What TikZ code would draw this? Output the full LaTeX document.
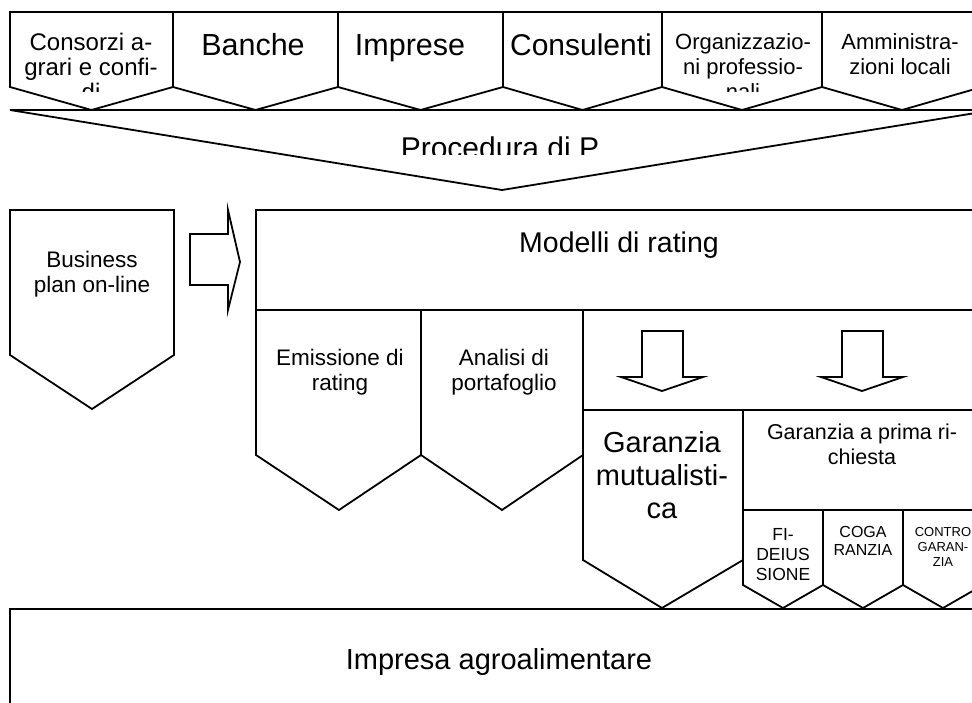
\documentclass[tikz,border=0pt]{standalone}
\usepackage{fontspec}
\setmainfont{Liberation Sans}
\newcommand\myfs[2]{\fontsize{#1}{#2}\selectfont}
\begin{document}
\begin{tikzpicture}[x=1pt,y=-1pt,
  shp/.style={draw=black,line width=1.8pt,line join=miter},
  lbl/.style={align=center,inner sep=0pt,text=black}]
\useasboundingbox (0,0) rectangle (972,702);
\clip (0,0) rectangle (972,702);
\fill[white] (0,0) rectangle (972,702);
% big chevron
\draw[shp] (10,110) -- (994,110) -- (502,190) -- cycle;
% top row pentagons
\foreach \xl/\xr in {10/173,173/338,338/503,503/662,662/822,822/982}{
  \draw[shp] (\xl,12) -- (\xr,12) -- (\xr,87) -- ({(\xl+\xr)/2},110) -- (\xl,87) -- cycle;
}
\begin{scope}
  \clip (0,12) rectangle (972,91);
  \node[lbl,font=\myfs{24}{25}] (consorzi) at (91,67) {Consorzi a-\\grari e confi-\\di};
  \node[lbl,font=\myfs{30.5}{32},anchor=base] (banche) at (253,55) {Banche};
  \node[lbl,font=\myfs{30.5}{32},anchor=base] (imprese) at (410,55) {Imprese};
  \node[lbl,font=\myfs{30}{32},anchor=base] (consulenti) at (581,55) {Consulenti};
  \node[lbl,font=\myfs{22}{25}] (organiz) at (743,67) {Organizzazio-\\ni professio-\\nali};
  \node[lbl,font=\myfs{22}{25}] (ammin) at (900,54.5) {Amministra-\\zioni locali};
\end{scope}
\begin{scope}
  \clip (0,110) rectangle (972,154);
  \node[lbl,font=\myfs{30}{32},anchor=base] (procedura) at (500,158) {Procedura di P};
\end{scope}
% business plan
\draw[shp] (10,210) -- (174,210) -- (174,355) -- (92,409) -- (10,355) -- cycle;
\node[lbl,font=\myfs{22.5}{25}] (business) at (92,274.5) {Business\\plan on-line};
% right block arrow
\draw[shp] (190,234) -- (228,234) -- (228,210) -- (240,262) -- (228,310) -- (228,285) -- (190,285) -- cycle;
% modelli di rating
\draw[shp] (256,210) rectangle (990,310);
\node[lbl,font=\myfs{28.5}{32},anchor=base] (modelli) at (619,252) {Modelli di rating};
% emissione / analisi
\draw[shp] (256,310) -- (421,310) -- (421,455) -- (339,510) -- (256,455) -- cycle;
\draw[shp] (421,310) -- (583,310) -- (583,455) -- (502,510) -- (421,455) -- cycle;
\node[lbl,font=\myfs{22.5}{25}] (emissione) at (340,372.5) {Emissione di\\rating};
\node[lbl,font=\myfs{22.5}{25}] (analisi) at (504,372.5) {Analisi di\\portafoglio};
% arrows panel
\draw[shp] (583,310) rectangle (990,410);
\draw[shp] (642,331) -- (683,331) -- (683,377) -- (703,377) -- (662,391) -- (621,377) -- (642,377) -- cycle;
\draw[shp] (842,331) -- (883,331) -- (883,377) -- (903,377) -- (862,391) -- (821,377) -- (842,377) -- cycle;
% garanzia mutualistica
\draw[shp] (583,410) -- (743,410) -- (743,560) -- (662,608) -- (583,560) -- cycle;
\node[lbl,font=\myfs{29}{33}] (mutual) at (662,475) {Garanzia\\mutualisti-\\ca};
% garanzia a prima richiesta
\draw[shp] (743,410) rectangle (990,510);
\node[lbl,font=\myfs{21.5}{25}] (prima) at (862,444.5) {Garanzia a prima ri-\\chiesta};
\draw[shp] (743,510) -- (823,510) -- (823,585) -- (783,608) -- (743,585) -- cycle;
\draw[shp] (823,510) -- (903,510) -- (903,585) -- (863,608) -- (823,585) -- cycle;
\draw[shp] (903,510) -- (983,510) -- (983,585) -- (943,608) -- (903,585) -- cycle;
\node[lbl,font=\myfs{17.5}{20}] (fideius) at (783,555) {FI-\\DEIUS\\SIONE};
\node[lbl,font=\myfs{16}{18}] (cogar) at (863,541) {COGA\\RANZIA};
\node[lbl,font=\myfs{13}{15}] (controg) at (943,547) {CONTRO\\GARAN-\\ZIA};
% impresa
\draw[shp] (10,609) rectangle (990,720);
\node[lbl,font=\myfs{29}{32},anchor=base] (impresa) at (499,669) {Impresa agroalimentare};
\end{tikzpicture}
\end{document}
